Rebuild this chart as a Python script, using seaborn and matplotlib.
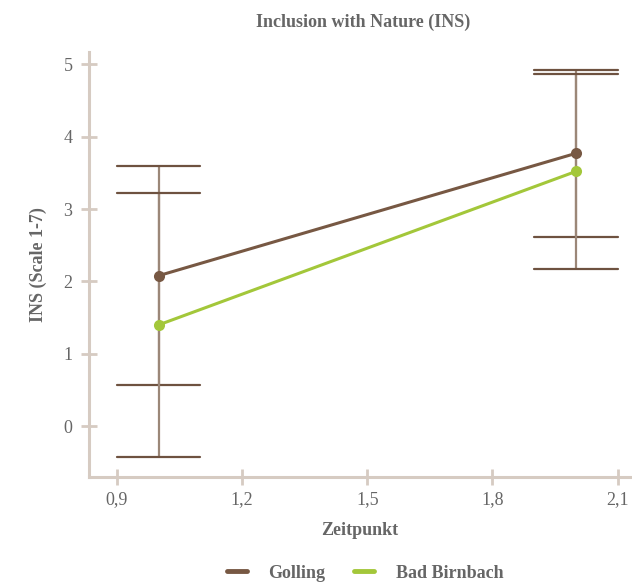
import matplotlib
matplotlib.use("Agg")
import matplotlib.pyplot as plt
import seaborn as sns
import pandas as pd
from matplotlib.ticker import FuncFormatter, FixedLocator

# Data
zeitpunkt = [1, 2]
groups = ["Golling", "Bad Birnbach"]
golling_mean = [2.08, 3.77]
golling_sd = [1.51, 1.15]
birnbach_mean = [1.40, 3.52]
birnbach_sd = [1.82, 1.35]
x_ticks = [0.9, 1.2, 1.5, 1.8, 2.1]
y_ticks = [0, 1, 2, 3, 4, 5]

colors = {"Golling": "#775843", "Bad Birnbach": "#a3c73a"}
axis_col = "#d6cbc2"
text_col = "#666666"

df = pd.DataFrame({
    "Zeitpunkt": zeitpunkt * 2,
    "INS": golling_mean + birnbach_mean,
    "SD": golling_sd + birnbach_sd,
    "Gruppe": [groups[0]] * 2 + [groups[1]] * 2,
})

sns.set_style("white")
plt.rcParams["font.family"] = ["Liberation Serif", "DejaVu Serif"]

fig = plt.figure(figsize=(6.32, 5.85), dpi=100)
ax = fig.add_axes([0.141, 0.185, 0.856, 0.726])

# error bars
for g in groups:
    sub = df[df["Gruppe"] == g]
    ax.errorbar(sub["Zeitpunkt"], sub["INS"], yerr=sub["SD"], fmt="none",
                ecolor="#9b8778", elinewidth=1.6, capsize=0, zorder=1)
    for xv, m, s in zip(sub["Zeitpunkt"], sub["INS"], sub["SD"]):
        for yv in (m - s, m + s):
            ax.plot([xv - 0.1, xv + 0.1], [yv, yv], color="#6e5240", lw=1.6, zorder=1)

sns.lineplot(data=df, x="Zeitpunkt", y="INS", hue="Gruppe", palette=colors,
             marker="o", markersize=8, markeredgewidth=0, linewidth=2.2,
             ax=ax, legend=False, zorder=3)

ax.set_xlim(0.833, 2.13)
ax.set_ylim(-0.70, 5.17)
ax.xaxis.set_major_locator(FixedLocator(x_ticks))
ax.yaxis.set_major_locator(FixedLocator(y_ticks))
ax.xaxis.set_major_formatter(FuncFormatter(lambda v, p: f"{v:.1f}".replace(".", ",")))
ax.yaxis.set_major_formatter(FuncFormatter(lambda v, p: f"{int(round(v))}"))

for side in ["top", "right"]:
    ax.spines[side].set_visible(False)
for side in ["left", "bottom"]:
    ax.spines[side].set_color(axis_col)
    ax.spines[side].set_linewidth(2.2)
ax.tick_params(axis="both", bottom=True, left=True, direction="inout", length=12, width=2,
               color=axis_col, labelcolor=text_col, labelsize=13)
ax.tick_params(axis="x", pad=4)
ax.tick_params(axis="y", pad=6)

ax.set_xlabel("Zeitpunkt", fontsize=13, fontweight="bold", color=text_col, labelpad=10)
ax.set_ylabel("INS (Scale 1-7)", fontsize=13, fontweight="bold", color=text_col, labelpad=12)
fig.text(0.575, 0.962, "Inclusion with Nature (INS)", ha="center", va="center",
         fontsize=13, fontweight="bold", color=text_col)

handles = [plt.Line2D([], [], color=colors[g], lw=3.5) for g in groups]
leg = fig.legend(handles, groups, loc="center", bbox_to_anchor=(0.578, 0.02), ncol=2,
                 frameon=False, handlelength=1.1, columnspacing=1.6, handletextpad=1.2,
                 prop={"size": 13, "weight": "bold"})
for t in leg.get_texts():
    t.set_color(text_col)

fig.savefig("out.png", dpi=100)
